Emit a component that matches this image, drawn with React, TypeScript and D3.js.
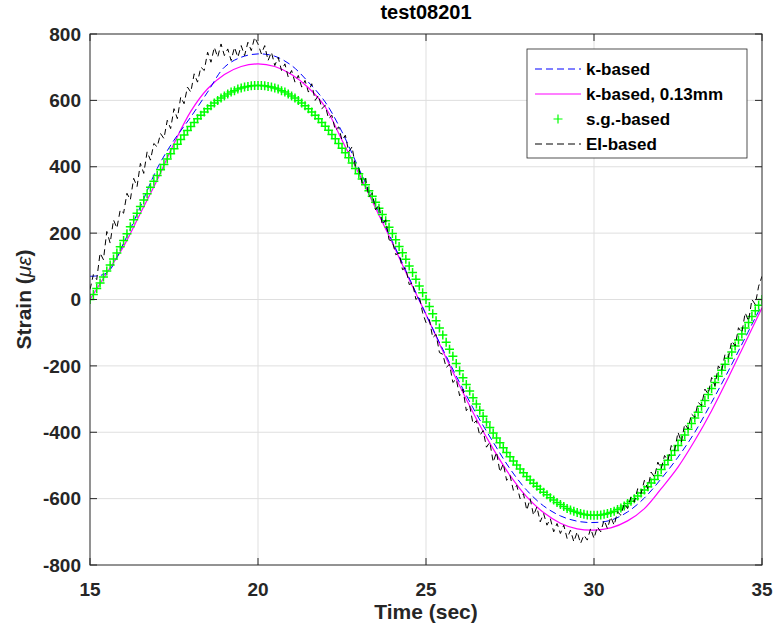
import React, { useRef, useEffect } from 'react';
import * as d3 from 'd3';

// s.g.-based strain, one marker every 0.1 sec from 15 to 35
const sgTimeStep = 0.1;
const sgBased = [
  0, 15, 33, 50, 68, 86, 104, 122, 140, 159,
  178, 198, 219, 240, 260, 280, 300, 319, 338, 356,
  374, 391, 407, 423, 439, 454, 468, 482, 496, 509,
  521, 533, 545, 555, 565, 575, 584, 592, 600, 607,
  613, 619, 625, 629, 634, 637, 640, 642, 644, 645,
  645, 645, 644, 642, 640, 637, 634, 629, 625, 619,
  613, 607, 600, 592, 584, 575, 565, 555, 545, 533,
  522, 510, 497, 484, 470, 456, 442, 427, 411, 395,
  379, 363, 346, 328, 311, 293, 275, 256, 237, 218,
  199, 180, 160, 141, 121, 101, 81, 61, 41, 20,
  0, -21, -43, -64, -86, -107, -129, -150, -171, -193,
  -215, -236, -256, -276, -296, -315, -334, -352, -369, -386,
  -402, -417, -432, -447, -461, -474, -487, -499, -511, -522,
  -533, -544, -554, -563, -572, -581, -588, -597, -604, -612,
  -618, -624, -630, -634, -638, -642, -645, -647, -649, -650,
  -650, -650, -649, -647, -645, -642, -638, -633, -628, -622,
  -615, -608, -600, -592, -583, -574, -564, -553, -542, -530,
  -512, -498, -484, -469, -455, -440, -424, -408, -391, -374,
  -357, -340, -322, -304, -286, -268, -250, -231, -213, -195,
  -177, -158, -140, -122, -104, -86, -69, -51, -34, -17,
  0,
];

// EI-based strain (noisy), every 0.1 sec
const eiTimeStep = 0.1;
const eiBased = [
  30, 75, 60, 140, 120, 205, 170, 240, 215, 270,
  260, 320, 300, 365, 340, 410, 380, 445, 420, 470,
  460, 500, 485, 540, 515, 575, 545, 610, 590, 640,
  625, 680, 655, 700, 690, 745, 715, 760, 730, 770,
  735, 755, 720, 760, 730, 765, 735, 775, 750, 790,
  770, 740, 765, 720, 745, 705, 730, 690, 710, 670,
  690, 655, 675, 640, 660, 625, 650, 600, 615, 575,
  585, 545, 555, 510, 520, 480, 495, 445, 460, 400,
  395, 350, 365, 310, 320, 270, 285, 225, 240, 180,
  175, 135, 140, 90, 95, 45, 50, 0, 10, -40,
  -70, -60, -115, -105, -160, -165, -205, -195, -250, -240,
  -290, -270, -335, -320, -375, -365, -410, -395, -445, -430,
  -490, -460, -520, -495, -545, -530, -575, -560, -600, -585,
  -635, -600, -650, -625, -670, -645, -680, -660, -700, -675,
  -705, -680, -720, -695, -730, -700, -735, -710, -725, -690,
  -720, -685, -700, -665, -690, -655, -680, -640, -650, -615,
  -630, -595, -610, -570, -585, -545, -570, -520, -535, -490,
  -510, -470, -485, -440, -455, -400, -430, -375, -390, -345,
  -355, -310, -320, -270, -285, -235, -260, -200, -215, -165,
  -175, -125, -140, -85, -100, -40, -65, 0, -15, 40,
  70,
];

// smooth model curves, every 0.5 sec
const modelTimeStep = 0.5;
const kBased = [
  70, 80, 170, 280, 395, 480, 550, 625, 700, 730,
  740, 733, 705, 655, 595, 505, 395, 285, 175, 65,
  -45, -150, -250, -345, -430, -510, -575, -622, -652, -668,
  -672, -665, -640, -598, -540, -475, -400, -310, -215, -115,
  -15,
];
const kBased013 = [
  0, 80, 160, 260, 360, 470, 567, 635, 678, 702,
  710, 702, 678, 638, 580, 480, 380, 275, 170, 60,
  -45, -155, -260, -360, -450, -530, -595, -642, -674, -691,
  -695, -688, -667, -630, -570, -505, -425, -335, -235, -130,
  -25,
];

const xTicks = [15, 20, 25, 30, 35];
const yTicks = [-800, -600, -400, -200, 0, 200, 400, 600, 800];
const legendLabels = ['k-based', 'k-based, 0.13mm', 's.g.-based', 'EI-based'];

const App = () => {
  const width = 777;
  const height = 634;
  const svgRef = useRef(null);

  useEffect(() => {
    const margin = { top: 34, right: 15, bottom: 69, left: 90 };
    const svg = d3.select(svgRef.current);
    svg.selectAll('*').remove();

    const x = d3.scaleLinear().domain([15, 35]).range([margin.left, width - margin.right]);
    const y = d3.scaleLinear().domain([-800, 800]).range([height - margin.bottom, margin.top]);
    const font = 'Arial, "Liberation Sans", Helvetica, sans-serif';
    const axisColor = '#262626';
    const plus = 'M-4.5,0H4.5M0,-4.5V4.5';

    svg.append('rect').attr('width', width).attr('height', height).attr('fill', '#fff');

    svg.append('clipPath').attr('id', 'plotClip')
      .append('rect')
      .attr('x', x(15)).attr('y', y(800))
      .attr('width', x(35) - x(15)).attr('height', y(-800) - y(800));

    // grid
    const grid = svg.append('g').attr('stroke', '#dfdfdf').attr('stroke-width', 1);
    grid.selectAll('.vg').data(xTicks.slice(1, -1)).enter().append('line')
      .attr('x1', d => x(d)).attr('x2', d => x(d))
      .attr('y1', y(800)).attr('y2', y(-800));
    grid.selectAll('.hg').data(yTicks.slice(1, -1)).enter().append('line')
      .attr('x1', x(15)).attr('x2', x(35))
      .attr('y1', d => y(d)).attr('y2', d => y(d));

    const plot = svg.append('g').attr('clip-path', 'url(#plotClip)');

    const modelLine = d3.line()
      .x((d, i) => x(15 + i * modelTimeStep))
      .y(d => y(d))
      .curve(d3.curveCatmullRom);

    plot.append('path')
      .attr('d', modelLine(kBased013))
      .attr('fill', 'none')
      .attr('stroke', '#ff00ff')
      .attr('stroke-width', 1.2);

    plot.append('path')
      .attr('d', modelLine(kBased))
      .attr('fill', 'none')
      .attr('stroke', '#0000ff')
      .attr('stroke-width', 1)
      .attr('stroke-dasharray', '7,4');

    // green + markers
    plot.selectAll('.sg').data(sgBased).enter().append('path')
      .attr('class', 'sg')
      .attr('transform', (d, i) => `translate(${x(15 + i * sgTimeStep)},${y(d)})`)
      .attr('d', plus)
      .attr('stroke', '#00ff00')
      .attr('stroke-width', 1.5)
      .attr('fill', 'none');

    const eiLine = d3.line()
      .x((d, i) => x(15 + i * eiTimeStep))
      .y(d => y(d));

    plot.append('path')
      .attr('d', eiLine(eiBased))
      .attr('fill', 'none')
      .attr('stroke', '#000')
      .attr('stroke-width', 1)
      .attr('stroke-dasharray', '6,4');

    // axes box and inward ticks
    const axes = svg.append('g').attr('stroke', axisColor).attr('stroke-width', 1);
    axes.append('rect')
      .attr('x', x(15)).attr('y', y(800))
      .attr('width', x(35) - x(15)).attr('height', y(-800) - y(800))
      .attr('fill', 'none');
    const tickLen = 7;
    xTicks.forEach(t => {
      axes.append('line').attr('x1', x(t)).attr('x2', x(t)).attr('y1', y(-800)).attr('y2', y(-800) - tickLen);
      axes.append('line').attr('x1', x(t)).attr('x2', x(t)).attr('y1', y(800)).attr('y2', y(800) + tickLen);
    });
    yTicks.forEach(t => {
      axes.append('line').attr('x1', x(15)).attr('x2', x(15) + tickLen).attr('y1', y(t)).attr('y2', y(t));
      axes.append('line').attr('x1', x(35)).attr('x2', x(35) - tickLen).attr('y1', y(t)).attr('y2', y(t));
    });

    svg.selectAll('.xt').data(xTicks).enter().append('text')
      .attr('x', d => x(d)).attr('y', y(-800) + 24)
      .attr('dy', '0.35em')
      .attr('text-anchor', 'middle')
      .style('font', `bold 19px ${font}`)
      .attr('fill', axisColor)
      .text(d => d);

    svg.selectAll('.yt').data(yTicks).enter().append('text')
      .attr('x', x(15) - 9).attr('y', d => y(d))
      .attr('dy', '0.35em')
      .attr('text-anchor', 'end')
      .style('font', `bold 19px ${font}`)
      .attr('fill', axisColor)
      .text(d => d);

    svg.append('text')
      .attr('x', (x(15) + x(35)) / 2).attr('y', 12)
      .attr('dy', '0.35em')
      .attr('text-anchor', 'middle')
      .style('font', `bold 20px ${font}`)
      .attr('fill', '#000')
      .text('test08201');

    svg.append('text')
      .attr('x', (x(15) + x(35)) / 2).attr('y', 612)
      .attr('dy', '0.35em')
      .attr('text-anchor', 'middle')
      .style('font', `bold 21px ${font}`)
      .attr('fill', axisColor)
      .text('Time (sec)');

    const yl = svg.append('text')
      .attr('transform', `translate(24,${(y(800) + y(-800)) / 2}) rotate(-90)`)
      .attr('dy', '0.35em')
      .attr('text-anchor', 'middle')
      .style('font', `bold 21px ${font}`)
      .attr('fill', axisColor);
    yl.append('tspan').text('Strain (');
    yl.append('tspan').style('font-style', 'italic').style('font-weight', 'normal').text('με');
    yl.append('tspan').text(')');

    // legend
    const lg = svg.append('g').attr('transform', 'translate(527,49)');
    lg.append('rect').attr('width', 220).attr('height', 109)
      .attr('fill', '#fff').attr('stroke', axisColor).attr('stroke-width', 0.8);
    legendLabels.forEach((lab, i) => {
      const cy = 20 + i * 25;
      if (i === 2) {
        lg.append('path')
          .attr('transform', `translate(31,${cy})`)
          .attr('d', plus)
          .attr('stroke', '#00ff00').attr('stroke-width', 1.2).attr('fill', 'none');
      } else {
        lg.append('line')
          .attr('x1', 8).attr('x2', 54).attr('y1', cy).attr('y2', cy)
          .attr('stroke', ['#0000ff', '#ff00ff', '', '#000'][i])
          .attr('stroke-width', i === 1 ? 1.2 : 1)
          .attr('stroke-dasharray', i === 1 ? null : '7,4');
      }
      lg.append('text')
        .attr('x', 59).attr('y', cy)
        .attr('dy', '0.35em')
        .style('font', `bold 17px ${font}`)
        .attr('fill', '#000')
        .text(lab);
    });
  }, []);

  return (
    <svg ref={svgRef} width={width} height={height}
      style={{ position: 'absolute', left: 0, top: 0, display: 'block' }} />
  );
};

export default App;
